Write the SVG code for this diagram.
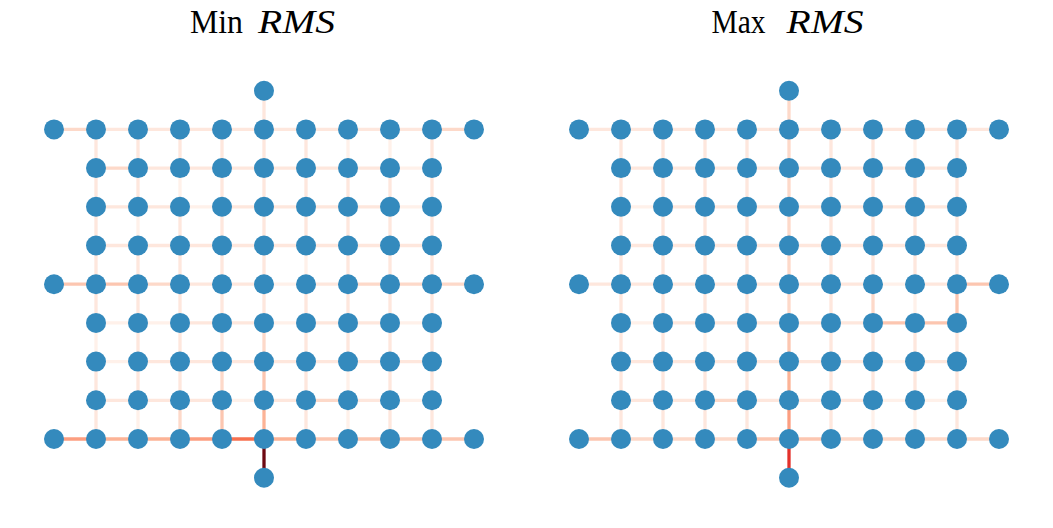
<svg xmlns="http://www.w3.org/2000/svg" width="1053" height="528" viewBox="0 0 1053 528">
<style>
.t{font-family:"Liberation Serif","DejaVu Serif",serif;font-size:34px;fill:#000}
.i{font-style:italic}
line{stroke-width:3.3;stroke-linecap:butt;fill:none}
.c0{stroke:#fff1ea}.c1{stroke:#fee7dd}.c2{stroke:#fdd9c9}.c3{stroke:#fcc6b0}.c4{stroke:#fcb396}
.c5{stroke:#fc9e80}.c7{stroke:#f7714f}.c8{stroke:#e3312b}.c9{stroke:#6e0912}
circle{fill:#348abd}
</style>
<rect width="1053" height="528" fill="#fff"/>
<g id="titles">
<text class="t" x="190" y="33" textLength="53" lengthAdjust="spacingAndGlyphs">Min</text>
<text class="t i" x="258" y="33" textLength="77" lengthAdjust="spacingAndGlyphs">RMS</text>
<text class="t" x="711.5" y="33" textLength="54" lengthAdjust="spacingAndGlyphs">Max</text>
<text class="t i" x="786.5" y="33" textLength="77" lengthAdjust="spacingAndGlyphs">RMS</text>
</g>
<g id="left">
<g id="left-edges">
<line class="c1" x1="264" y1="90.7" x2="264" y2="129.4"/>
<line class="c9" x1="264" y1="439" x2="264" y2="477.7"/>
<line class="c2" x1="54" y1="129.4" x2="96" y2="129.4"/><line class="c1" x1="96" y1="129.4" x2="138" y2="129.4"/><line class="c1" x1="138" y1="129.4" x2="180" y2="129.4"/><line class="c1" x1="180" y1="129.4" x2="222" y2="129.4"/><line class="c1" x1="222" y1="129.4" x2="264" y2="129.4"/><line class="c1" x1="264" y1="129.4" x2="306" y2="129.4"/><line class="c1" x1="306" y1="129.4" x2="348" y2="129.4"/><line class="c1" x1="348" y1="129.4" x2="390" y2="129.4"/><line class="c1" x1="390" y1="129.4" x2="432" y2="129.4"/><line class="c2" x1="432" y1="129.4" x2="474" y2="129.4"/>
<line class="c2" x1="96" y1="168.1" x2="138" y2="168.1"/><line class="c1" x1="138" y1="168.1" x2="180" y2="168.1"/><line class="c1" x1="180" y1="168.1" x2="222" y2="168.1"/><line class="c1" x1="222" y1="168.1" x2="264" y2="168.1"/><line class="c1" x1="264" y1="168.1" x2="306" y2="168.1"/><line class="c1" x1="306" y1="168.1" x2="348" y2="168.1"/><line class="c1" x1="348" y1="168.1" x2="390" y2="168.1"/><line class="c0" x1="390" y1="168.1" x2="432" y2="168.1"/>
<line class="c1" x1="96" y1="206.8" x2="138" y2="206.8"/><line class="c1" x1="138" y1="206.8" x2="180" y2="206.8"/><line class="c0" x1="180" y1="206.8" x2="222" y2="206.8"/><line class="c1" x1="222" y1="206.8" x2="264" y2="206.8"/><line class="c1" x1="264" y1="206.8" x2="306" y2="206.8"/><line class="c1" x1="306" y1="206.8" x2="348" y2="206.8"/><line class="c1" x1="348" y1="206.8" x2="390" y2="206.8"/><line class="c0" x1="390" y1="206.8" x2="432" y2="206.8"/>
<line class="c1" x1="96" y1="245.5" x2="138" y2="245.5"/><line class="c1" x1="138" y1="245.5" x2="180" y2="245.5"/><line class="c1" x1="180" y1="245.5" x2="222" y2="245.5"/><line class="c1" x1="222" y1="245.5" x2="264" y2="245.5"/><line class="c1" x1="264" y1="245.5" x2="306" y2="245.5"/><line class="c1" x1="306" y1="245.5" x2="348" y2="245.5"/><line class="c1" x1="348" y1="245.5" x2="390" y2="245.5"/><line class="c1" x1="390" y1="245.5" x2="432" y2="245.5"/>
<line class="c3" x1="54" y1="284.2" x2="96" y2="284.2"/><line class="c3" x1="96" y1="284.2" x2="138" y2="284.2"/><line class="c2" x1="138" y1="284.2" x2="180" y2="284.2"/><line class="c1" x1="180" y1="284.2" x2="222" y2="284.2"/><line class="c1" x1="222" y1="284.2" x2="264" y2="284.2"/><line class="c0" x1="264" y1="284.2" x2="306" y2="284.2"/><line class="c1" x1="306" y1="284.2" x2="348" y2="284.2"/><line class="c2" x1="348" y1="284.2" x2="390" y2="284.2"/><line class="c2" x1="390" y1="284.2" x2="432" y2="284.2"/><line class="c2" x1="432" y1="284.2" x2="474" y2="284.2"/>
<line class="c0" x1="96" y1="322.9" x2="138" y2="322.9"/><line class="c0" x1="138" y1="322.9" x2="180" y2="322.9"/><line class="c1" x1="180" y1="322.9" x2="222" y2="322.9"/><line class="c1" x1="222" y1="322.9" x2="264" y2="322.9"/><line class="c0" x1="264" y1="322.9" x2="306" y2="322.9"/><line class="c1" x1="306" y1="322.9" x2="348" y2="322.9"/><line class="c1" x1="348" y1="322.9" x2="390" y2="322.9"/><line class="c0" x1="390" y1="322.9" x2="432" y2="322.9"/>
<line class="c0" x1="96" y1="361.6" x2="138" y2="361.6"/><line class="c1" x1="138" y1="361.6" x2="180" y2="361.6"/><line class="c1" x1="180" y1="361.6" x2="222" y2="361.6"/><line class="c1" x1="222" y1="361.6" x2="264" y2="361.6"/><line class="c1" x1="264" y1="361.6" x2="306" y2="361.6"/><line class="c1" x1="306" y1="361.6" x2="348" y2="361.6"/><line class="c1" x1="348" y1="361.6" x2="390" y2="361.6"/><line class="c1" x1="390" y1="361.6" x2="432" y2="361.6"/>
<line class="c1" x1="96" y1="400.3" x2="138" y2="400.3"/><line class="c1" x1="138" y1="400.3" x2="180" y2="400.3"/><line class="c1" x1="180" y1="400.3" x2="222" y2="400.3"/><line class="c0" x1="222" y1="400.3" x2="264" y2="400.3"/><line class="c1" x1="264" y1="400.3" x2="306" y2="400.3"/><line class="c2" x1="306" y1="400.3" x2="348" y2="400.3"/><line class="c1" x1="348" y1="400.3" x2="390" y2="400.3"/><line class="c0" x1="390" y1="400.3" x2="432" y2="400.3"/>
<line class="c5" x1="54" y1="439" x2="96" y2="439"/><line class="c4" x1="96" y1="439" x2="138" y2="439"/><line class="c4" x1="138" y1="439" x2="180" y2="439"/><line class="c5" x1="180" y1="439" x2="222" y2="439"/><line class="c7" x1="222" y1="439" x2="264" y2="439"/><line class="c4" x1="264" y1="439" x2="306" y2="439"/><line class="c3" x1="306" y1="439" x2="348" y2="439"/><line class="c3" x1="348" y1="439" x2="390" y2="439"/><line class="c3" x1="390" y1="439" x2="432" y2="439"/><line class="c3" x1="432" y1="439" x2="474" y2="439"/>
<line class="c1" x1="96" y1="129.4" x2="96" y2="168.1"/><line class="c1" x1="96" y1="168.1" x2="96" y2="206.8"/><line class="c1" x1="96" y1="206.8" x2="96" y2="245.5"/><line class="c1" x1="96" y1="245.5" x2="96" y2="284.2"/><line class="c1" x1="96" y1="284.2" x2="96" y2="322.9"/><line class="c0" x1="96" y1="322.9" x2="96" y2="361.6"/><line class="c1" x1="96" y1="361.6" x2="96" y2="400.3"/><line class="c1" x1="96" y1="400.3" x2="96" y2="439"/>
<line class="c1" x1="138" y1="129.4" x2="138" y2="168.1"/><line class="c1" x1="138" y1="168.1" x2="138" y2="206.8"/><line class="c0" x1="138" y1="206.8" x2="138" y2="245.5"/><line class="c1" x1="138" y1="245.5" x2="138" y2="284.2"/><line class="c1" x1="138" y1="284.2" x2="138" y2="322.9"/><line class="c1" x1="138" y1="322.9" x2="138" y2="361.6"/><line class="c1" x1="138" y1="361.6" x2="138" y2="400.3"/><line class="c0" x1="138" y1="400.3" x2="138" y2="439"/>
<line class="c1" x1="180" y1="129.4" x2="180" y2="168.1"/><line class="c0" x1="180" y1="168.1" x2="180" y2="206.8"/><line class="c1" x1="180" y1="206.8" x2="180" y2="245.5"/><line class="c1" x1="180" y1="245.5" x2="180" y2="284.2"/><line class="c1" x1="180" y1="284.2" x2="180" y2="322.9"/><line class="c1" x1="180" y1="322.9" x2="180" y2="361.6"/><line class="c1" x1="180" y1="361.6" x2="180" y2="400.3"/><line class="c2" x1="180" y1="400.3" x2="180" y2="439"/>
<line class="c1" x1="222" y1="129.4" x2="222" y2="168.1"/><line class="c1" x1="222" y1="168.1" x2="222" y2="206.8"/><line class="c1" x1="222" y1="206.8" x2="222" y2="245.5"/><line class="c1" x1="222" y1="245.5" x2="222" y2="284.2"/><line class="c1" x1="222" y1="284.2" x2="222" y2="322.9"/><line class="c1" x1="222" y1="322.9" x2="222" y2="361.6"/><line class="c2" x1="222" y1="361.6" x2="222" y2="400.3"/><line class="c3" x1="222" y1="400.3" x2="222" y2="439"/>
<line class="c1" x1="264" y1="129.4" x2="264" y2="168.1"/><line class="c1" x1="264" y1="168.1" x2="264" y2="206.8"/><line class="c1" x1="264" y1="206.8" x2="264" y2="245.5"/><line class="c1" x1="264" y1="245.5" x2="264" y2="284.2"/><line class="c1" x1="264" y1="284.2" x2="264" y2="322.9"/><line class="c2" x1="264" y1="322.9" x2="264" y2="361.6"/><line class="c3" x1="264" y1="361.6" x2="264" y2="400.3"/><line class="c4" x1="264" y1="400.3" x2="264" y2="439"/>
<line class="c1" x1="306" y1="129.4" x2="306" y2="168.1"/><line class="c1" x1="306" y1="168.1" x2="306" y2="206.8"/><line class="c1" x1="306" y1="206.8" x2="306" y2="245.5"/><line class="c0" x1="306" y1="245.5" x2="306" y2="284.2"/><line class="c1" x1="306" y1="284.2" x2="306" y2="322.9"/><line class="c1" x1="306" y1="322.9" x2="306" y2="361.6"/><line class="c1" x1="306" y1="361.6" x2="306" y2="400.3"/><line class="c1" x1="306" y1="400.3" x2="306" y2="439"/>
<line class="c0" x1="348" y1="129.4" x2="348" y2="168.1"/><line class="c1" x1="348" y1="168.1" x2="348" y2="206.8"/><line class="c1" x1="348" y1="206.8" x2="348" y2="245.5"/><line class="c1" x1="348" y1="245.5" x2="348" y2="284.2"/><line class="c1" x1="348" y1="284.2" x2="348" y2="322.9"/><line class="c1" x1="348" y1="322.9" x2="348" y2="361.6"/><line class="c0" x1="348" y1="361.6" x2="348" y2="400.3"/><line class="c0" x1="348" y1="400.3" x2="348" y2="439"/>
<line class="c0" x1="390" y1="129.4" x2="390" y2="168.1"/><line class="c1" x1="390" y1="168.1" x2="390" y2="206.8"/><line class="c1" x1="390" y1="206.8" x2="390" y2="245.5"/><line class="c1" x1="390" y1="245.5" x2="390" y2="284.2"/><line class="c1" x1="390" y1="284.2" x2="390" y2="322.9"/><line class="c1" x1="390" y1="322.9" x2="390" y2="361.6"/><line class="c1" x1="390" y1="361.6" x2="390" y2="400.3"/><line class="c1" x1="390" y1="400.3" x2="390" y2="439"/>
<line class="c1" x1="432" y1="129.4" x2="432" y2="168.1"/><line class="c1" x1="432" y1="168.1" x2="432" y2="206.8"/><line class="c1" x1="432" y1="206.8" x2="432" y2="245.5"/><line class="c1" x1="432" y1="245.5" x2="432" y2="284.2"/><line class="c1" x1="432" y1="284.2" x2="432" y2="322.9"/><line class="c1" x1="432" y1="322.9" x2="432" y2="361.6"/><line class="c1" x1="432" y1="361.6" x2="432" y2="400.3"/><line class="c1" x1="432" y1="400.3" x2="432" y2="439"/>
</g>
<g id="left-nodes">
<g id="L-0-5"><circle cx="264" cy="90.7" r="10"/></g>
<g id="L-1-0"><circle cx="54" cy="129.4" r="10"/></g><g id="L-1-1"><circle cx="96" cy="129.4" r="10"/></g><g id="L-1-2"><circle cx="138" cy="129.4" r="10"/></g><g id="L-1-3"><circle cx="180" cy="129.4" r="10"/></g><g id="L-1-4"><circle cx="222" cy="129.4" r="10"/></g><g id="L-1-5"><circle cx="264" cy="129.4" r="10"/></g><g id="L-1-6"><circle cx="306" cy="129.4" r="10"/></g><g id="L-1-7"><circle cx="348" cy="129.4" r="10"/></g><g id="L-1-8"><circle cx="390" cy="129.4" r="10"/></g><g id="L-1-9"><circle cx="432" cy="129.4" r="10"/></g><g id="L-1-10"><circle cx="474" cy="129.4" r="10"/></g>
<g id="L-2-1"><circle cx="96" cy="168.1" r="10"/></g><g id="L-2-2"><circle cx="138" cy="168.1" r="10"/></g><g id="L-2-3"><circle cx="180" cy="168.1" r="10"/></g><g id="L-2-4"><circle cx="222" cy="168.1" r="10"/></g><g id="L-2-5"><circle cx="264" cy="168.1" r="10"/></g><g id="L-2-6"><circle cx="306" cy="168.1" r="10"/></g><g id="L-2-7"><circle cx="348" cy="168.1" r="10"/></g><g id="L-2-8"><circle cx="390" cy="168.1" r="10"/></g><g id="L-2-9"><circle cx="432" cy="168.1" r="10"/></g>
<g id="L-3-1"><circle cx="96" cy="206.8" r="10"/></g><g id="L-3-2"><circle cx="138" cy="206.8" r="10"/></g><g id="L-3-3"><circle cx="180" cy="206.8" r="10"/></g><g id="L-3-4"><circle cx="222" cy="206.8" r="10"/></g><g id="L-3-5"><circle cx="264" cy="206.8" r="10"/></g><g id="L-3-6"><circle cx="306" cy="206.8" r="10"/></g><g id="L-3-7"><circle cx="348" cy="206.8" r="10"/></g><g id="L-3-8"><circle cx="390" cy="206.8" r="10"/></g><g id="L-3-9"><circle cx="432" cy="206.8" r="10"/></g>
<g id="L-4-1"><circle cx="96" cy="245.5" r="10"/></g><g id="L-4-2"><circle cx="138" cy="245.5" r="10"/></g><g id="L-4-3"><circle cx="180" cy="245.5" r="10"/></g><g id="L-4-4"><circle cx="222" cy="245.5" r="10"/></g><g id="L-4-5"><circle cx="264" cy="245.5" r="10"/></g><g id="L-4-6"><circle cx="306" cy="245.5" r="10"/></g><g id="L-4-7"><circle cx="348" cy="245.5" r="10"/></g><g id="L-4-8"><circle cx="390" cy="245.5" r="10"/></g><g id="L-4-9"><circle cx="432" cy="245.5" r="10"/></g>
<g id="L-5-0"><circle cx="54" cy="284.2" r="10"/></g><g id="L-5-1"><circle cx="96" cy="284.2" r="10"/></g><g id="L-5-2"><circle cx="138" cy="284.2" r="10"/></g><g id="L-5-3"><circle cx="180" cy="284.2" r="10"/></g><g id="L-5-4"><circle cx="222" cy="284.2" r="10"/></g><g id="L-5-5"><circle cx="264" cy="284.2" r="10"/></g><g id="L-5-6"><circle cx="306" cy="284.2" r="10"/></g><g id="L-5-7"><circle cx="348" cy="284.2" r="10"/></g><g id="L-5-8"><circle cx="390" cy="284.2" r="10"/></g><g id="L-5-9"><circle cx="432" cy="284.2" r="10"/></g><g id="L-5-10"><circle cx="474" cy="284.2" r="10"/></g>
<g id="L-6-1"><circle cx="96" cy="322.9" r="10"/></g><g id="L-6-2"><circle cx="138" cy="322.9" r="10"/></g><g id="L-6-3"><circle cx="180" cy="322.9" r="10"/></g><g id="L-6-4"><circle cx="222" cy="322.9" r="10"/></g><g id="L-6-5"><circle cx="264" cy="322.9" r="10"/></g><g id="L-6-6"><circle cx="306" cy="322.9" r="10"/></g><g id="L-6-7"><circle cx="348" cy="322.9" r="10"/></g><g id="L-6-8"><circle cx="390" cy="322.9" r="10"/></g><g id="L-6-9"><circle cx="432" cy="322.9" r="10"/></g>
<g id="L-7-1"><circle cx="96" cy="361.6" r="10"/></g><g id="L-7-2"><circle cx="138" cy="361.6" r="10"/></g><g id="L-7-3"><circle cx="180" cy="361.6" r="10"/></g><g id="L-7-4"><circle cx="222" cy="361.6" r="10"/></g><g id="L-7-5"><circle cx="264" cy="361.6" r="10"/></g><g id="L-7-6"><circle cx="306" cy="361.6" r="10"/></g><g id="L-7-7"><circle cx="348" cy="361.6" r="10"/></g><g id="L-7-8"><circle cx="390" cy="361.6" r="10"/></g><g id="L-7-9"><circle cx="432" cy="361.6" r="10"/></g>
<g id="L-8-1"><circle cx="96" cy="400.3" r="10"/></g><g id="L-8-2"><circle cx="138" cy="400.3" r="10"/></g><g id="L-8-3"><circle cx="180" cy="400.3" r="10"/></g><g id="L-8-4"><circle cx="222" cy="400.3" r="10"/></g><g id="L-8-5"><circle cx="264" cy="400.3" r="10"/></g><g id="L-8-6"><circle cx="306" cy="400.3" r="10"/></g><g id="L-8-7"><circle cx="348" cy="400.3" r="10"/></g><g id="L-8-8"><circle cx="390" cy="400.3" r="10"/></g><g id="L-8-9"><circle cx="432" cy="400.3" r="10"/></g>
<g id="L-9-0"><circle cx="54" cy="439" r="10"/></g><g id="L-9-1"><circle cx="96" cy="439" r="10"/></g><g id="L-9-2"><circle cx="138" cy="439" r="10"/></g><g id="L-9-3"><circle cx="180" cy="439" r="10"/></g><g id="L-9-4"><circle cx="222" cy="439" r="10"/></g><g id="L-9-5"><circle cx="264" cy="439" r="10"/></g><g id="L-9-6"><circle cx="306" cy="439" r="10"/></g><g id="L-9-7"><circle cx="348" cy="439" r="10"/></g><g id="L-9-8"><circle cx="390" cy="439" r="10"/></g><g id="L-9-9"><circle cx="432" cy="439" r="10"/></g><g id="L-9-10"><circle cx="474" cy="439" r="10"/></g>
<g id="L-10-5"><circle cx="264" cy="477.7" r="10"/></g>
</g>
</g>
<g id="right" transform="translate(525,0)">
<g id="right-edges">
<line class="c2" x1="264" y1="90.7" x2="264" y2="129.4"/>
<line class="c8" x1="264" y1="439" x2="264" y2="477.7"/>
<line class="c1" x1="54" y1="129.4" x2="96" y2="129.4"/><line class="c1" x1="96" y1="129.4" x2="138" y2="129.4"/><line class="c1" x1="138" y1="129.4" x2="180" y2="129.4"/><line class="c1" x1="180" y1="129.4" x2="222" y2="129.4"/><line class="c1" x1="222" y1="129.4" x2="264" y2="129.4"/><line class="c1" x1="264" y1="129.4" x2="306" y2="129.4"/><line class="c1" x1="306" y1="129.4" x2="348" y2="129.4"/><line class="c1" x1="348" y1="129.4" x2="390" y2="129.4"/><line class="c1" x1="390" y1="129.4" x2="432" y2="129.4"/><line class="c1" x1="432" y1="129.4" x2="474" y2="129.4"/>
<line class="c1" x1="96" y1="168.1" x2="138" y2="168.1"/><line class="c1" x1="138" y1="168.1" x2="180" y2="168.1"/><line class="c1" x1="180" y1="168.1" x2="222" y2="168.1"/><line class="c1" x1="222" y1="168.1" x2="264" y2="168.1"/><line class="c1" x1="264" y1="168.1" x2="306" y2="168.1"/><line class="c1" x1="306" y1="168.1" x2="348" y2="168.1"/><line class="c1" x1="348" y1="168.1" x2="390" y2="168.1"/><line class="c1" x1="390" y1="168.1" x2="432" y2="168.1"/>
<line class="c0" x1="96" y1="206.8" x2="138" y2="206.8"/><line class="c1" x1="138" y1="206.8" x2="180" y2="206.8"/><line class="c1" x1="180" y1="206.8" x2="222" y2="206.8"/><line class="c1" x1="222" y1="206.8" x2="264" y2="206.8"/><line class="c1" x1="264" y1="206.8" x2="306" y2="206.8"/><line class="c1" x1="306" y1="206.8" x2="348" y2="206.8"/><line class="c1" x1="348" y1="206.8" x2="390" y2="206.8"/><line class="c1" x1="390" y1="206.8" x2="432" y2="206.8"/>
<line class="c1" x1="96" y1="245.5" x2="138" y2="245.5"/><line class="c1" x1="138" y1="245.5" x2="180" y2="245.5"/><line class="c1" x1="180" y1="245.5" x2="222" y2="245.5"/><line class="c1" x1="222" y1="245.5" x2="264" y2="245.5"/><line class="c1" x1="264" y1="245.5" x2="306" y2="245.5"/><line class="c1" x1="306" y1="245.5" x2="348" y2="245.5"/><line class="c1" x1="348" y1="245.5" x2="390" y2="245.5"/><line class="c1" x1="390" y1="245.5" x2="432" y2="245.5"/>
<line class="c1" x1="54" y1="284.2" x2="96" y2="284.2"/><line class="c1" x1="96" y1="284.2" x2="138" y2="284.2"/><line class="c1" x1="138" y1="284.2" x2="180" y2="284.2"/><line class="c1" x1="180" y1="284.2" x2="222" y2="284.2"/><line class="c1" x1="222" y1="284.2" x2="264" y2="284.2"/><line class="c1" x1="264" y1="284.2" x2="306" y2="284.2"/><line class="c1" x1="306" y1="284.2" x2="348" y2="284.2"/><line class="c0" x1="348" y1="284.2" x2="390" y2="284.2"/><line class="c1" x1="390" y1="284.2" x2="432" y2="284.2"/><line class="c3" x1="432" y1="284.2" x2="474" y2="284.2"/>
<line class="c0" x1="96" y1="322.9" x2="138" y2="322.9"/><line class="c1" x1="138" y1="322.9" x2="180" y2="322.9"/><line class="c1" x1="180" y1="322.9" x2="222" y2="322.9"/><line class="c1" x1="222" y1="322.9" x2="264" y2="322.9"/><line class="c1" x1="264" y1="322.9" x2="306" y2="322.9"/><line class="c1" x1="306" y1="322.9" x2="348" y2="322.9"/><line class="c3" x1="348" y1="322.9" x2="390" y2="322.9"/><line class="c3" x1="390" y1="322.9" x2="432" y2="322.9"/>
<line class="c1" x1="96" y1="361.6" x2="138" y2="361.6"/><line class="c1" x1="138" y1="361.6" x2="180" y2="361.6"/><line class="c1" x1="180" y1="361.6" x2="222" y2="361.6"/><line class="c1" x1="222" y1="361.6" x2="264" y2="361.6"/><line class="c1" x1="264" y1="361.6" x2="306" y2="361.6"/><line class="c1" x1="306" y1="361.6" x2="348" y2="361.6"/><line class="c0" x1="348" y1="361.6" x2="390" y2="361.6"/><line class="c1" x1="390" y1="361.6" x2="432" y2="361.6"/>
<line class="c1" x1="96" y1="400.3" x2="138" y2="400.3"/><line class="c1" x1="138" y1="400.3" x2="180" y2="400.3"/><line class="c2" x1="180" y1="400.3" x2="222" y2="400.3"/><line class="c1" x1="222" y1="400.3" x2="264" y2="400.3"/><line class="c1" x1="264" y1="400.3" x2="306" y2="400.3"/><line class="c1" x1="306" y1="400.3" x2="348" y2="400.3"/><line class="c0" x1="348" y1="400.3" x2="390" y2="400.3"/><line class="c0" x1="390" y1="400.3" x2="432" y2="400.3"/>
<line class="c3" x1="54" y1="439" x2="96" y2="439"/><line class="c2" x1="96" y1="439" x2="138" y2="439"/><line class="c2" x1="138" y1="439" x2="180" y2="439"/><line class="c2" x1="180" y1="439" x2="222" y2="439"/><line class="c3" x1="222" y1="439" x2="264" y2="439"/><line class="c3" x1="264" y1="439" x2="306" y2="439"/><line class="c2" x1="306" y1="439" x2="348" y2="439"/><line class="c2" x1="348" y1="439" x2="390" y2="439"/><line class="c2" x1="390" y1="439" x2="432" y2="439"/><line class="c2" x1="432" y1="439" x2="474" y2="439"/>
<line class="c1" x1="96" y1="129.4" x2="96" y2="168.1"/><line class="c1" x1="96" y1="168.1" x2="96" y2="206.8"/><line class="c1" x1="96" y1="206.8" x2="96" y2="245.5"/><line class="c1" x1="96" y1="245.5" x2="96" y2="284.2"/><line class="c1" x1="96" y1="284.2" x2="96" y2="322.9"/><line class="c1" x1="96" y1="322.9" x2="96" y2="361.6"/><line class="c1" x1="96" y1="361.6" x2="96" y2="400.3"/><line class="c1" x1="96" y1="400.3" x2="96" y2="439"/>
<line class="c1" x1="138" y1="129.4" x2="138" y2="168.1"/><line class="c1" x1="138" y1="168.1" x2="138" y2="206.8"/><line class="c1" x1="138" y1="206.8" x2="138" y2="245.5"/><line class="c1" x1="138" y1="245.5" x2="138" y2="284.2"/><line class="c1" x1="138" y1="284.2" x2="138" y2="322.9"/><line class="c1" x1="138" y1="322.9" x2="138" y2="361.6"/><line class="c1" x1="138" y1="361.6" x2="138" y2="400.3"/><line class="c1" x1="138" y1="400.3" x2="138" y2="439"/>
<line class="c1" x1="180" y1="129.4" x2="180" y2="168.1"/><line class="c1" x1="180" y1="168.1" x2="180" y2="206.8"/><line class="c1" x1="180" y1="206.8" x2="180" y2="245.5"/><line class="c1" x1="180" y1="245.5" x2="180" y2="284.2"/><line class="c1" x1="180" y1="284.2" x2="180" y2="322.9"/><line class="c0" x1="180" y1="322.9" x2="180" y2="361.6"/><line class="c1" x1="180" y1="361.6" x2="180" y2="400.3"/><line class="c1" x1="180" y1="400.3" x2="180" y2="439"/>
<line class="c1" x1="222" y1="129.4" x2="222" y2="168.1"/><line class="c1" x1="222" y1="168.1" x2="222" y2="206.8"/><line class="c1" x1="222" y1="206.8" x2="222" y2="245.5"/><line class="c1" x1="222" y1="245.5" x2="222" y2="284.2"/><line class="c1" x1="222" y1="284.2" x2="222" y2="322.9"/><line class="c1" x1="222" y1="322.9" x2="222" y2="361.6"/><line class="c1" x1="222" y1="361.6" x2="222" y2="400.3"/><line class="c1" x1="222" y1="400.3" x2="222" y2="439"/>
<line class="c2" x1="264" y1="129.4" x2="264" y2="168.1"/><line class="c2" x1="264" y1="168.1" x2="264" y2="206.8"/><line class="c2" x1="264" y1="206.8" x2="264" y2="245.5"/><line class="c2" x1="264" y1="245.5" x2="264" y2="284.2"/><line class="c2" x1="264" y1="284.2" x2="264" y2="322.9"/><line class="c3" x1="264" y1="322.9" x2="264" y2="361.6"/><line class="c4" x1="264" y1="361.6" x2="264" y2="400.3"/><line class="c5" x1="264" y1="400.3" x2="264" y2="439"/>
<line class="c1" x1="306" y1="129.4" x2="306" y2="168.1"/><line class="c1" x1="306" y1="168.1" x2="306" y2="206.8"/><line class="c1" x1="306" y1="206.8" x2="306" y2="245.5"/><line class="c1" x1="306" y1="245.5" x2="306" y2="284.2"/><line class="c1" x1="306" y1="284.2" x2="306" y2="322.9"/><line class="c1" x1="306" y1="322.9" x2="306" y2="361.6"/><line class="c1" x1="306" y1="361.6" x2="306" y2="400.3"/><line class="c1" x1="306" y1="400.3" x2="306" y2="439"/>
<line class="c1" x1="348" y1="129.4" x2="348" y2="168.1"/><line class="c1" x1="348" y1="168.1" x2="348" y2="206.8"/><line class="c1" x1="348" y1="206.8" x2="348" y2="245.5"/><line class="c1" x1="348" y1="245.5" x2="348" y2="284.2"/><line class="c2" x1="348" y1="284.2" x2="348" y2="322.9"/><line class="c1" x1="348" y1="322.9" x2="348" y2="361.6"/><line class="c1" x1="348" y1="361.6" x2="348" y2="400.3"/><line class="c0" x1="348" y1="400.3" x2="348" y2="439"/>
<line class="c0" x1="390" y1="129.4" x2="390" y2="168.1"/><line class="c1" x1="390" y1="168.1" x2="390" y2="206.8"/><line class="c1" x1="390" y1="206.8" x2="390" y2="245.5"/><line class="c1" x1="390" y1="245.5" x2="390" y2="284.2"/><line class="c0" x1="390" y1="284.2" x2="390" y2="322.9"/><line class="c1" x1="390" y1="322.9" x2="390" y2="361.6"/><line class="c1" x1="390" y1="361.6" x2="390" y2="400.3"/><line class="c0" x1="390" y1="400.3" x2="390" y2="439"/>
<line class="c1" x1="432" y1="129.4" x2="432" y2="168.1"/><line class="c1" x1="432" y1="168.1" x2="432" y2="206.8"/><line class="c1" x1="432" y1="206.8" x2="432" y2="245.5"/><line class="c1" x1="432" y1="245.5" x2="432" y2="284.2"/><line class="c3" x1="432" y1="284.2" x2="432" y2="322.9"/><line class="c1" x1="432" y1="322.9" x2="432" y2="361.6"/><line class="c1" x1="432" y1="361.6" x2="432" y2="400.3"/><line class="c1" x1="432" y1="400.3" x2="432" y2="439"/>
</g>
<g id="right-nodes">
<g id="R-0-5"><circle cx="264" cy="90.7" r="10"/></g>
<g id="R-1-0"><circle cx="54" cy="129.4" r="10"/></g><g id="R-1-1"><circle cx="96" cy="129.4" r="10"/></g><g id="R-1-2"><circle cx="138" cy="129.4" r="10"/></g><g id="R-1-3"><circle cx="180" cy="129.4" r="10"/></g><g id="R-1-4"><circle cx="222" cy="129.4" r="10"/></g><g id="R-1-5"><circle cx="264" cy="129.4" r="10"/></g><g id="R-1-6"><circle cx="306" cy="129.4" r="10"/></g><g id="R-1-7"><circle cx="348" cy="129.4" r="10"/></g><g id="R-1-8"><circle cx="390" cy="129.4" r="10"/></g><g id="R-1-9"><circle cx="432" cy="129.4" r="10"/></g><g id="R-1-10"><circle cx="474" cy="129.4" r="10"/></g>
<g id="R-2-1"><circle cx="96" cy="168.1" r="10"/></g><g id="R-2-2"><circle cx="138" cy="168.1" r="10"/></g><g id="R-2-3"><circle cx="180" cy="168.1" r="10"/></g><g id="R-2-4"><circle cx="222" cy="168.1" r="10"/></g><g id="R-2-5"><circle cx="264" cy="168.1" r="10"/></g><g id="R-2-6"><circle cx="306" cy="168.1" r="10"/></g><g id="R-2-7"><circle cx="348" cy="168.1" r="10"/></g><g id="R-2-8"><circle cx="390" cy="168.1" r="10"/></g><g id="R-2-9"><circle cx="432" cy="168.1" r="10"/></g>
<g id="R-3-1"><circle cx="96" cy="206.8" r="10"/></g><g id="R-3-2"><circle cx="138" cy="206.8" r="10"/></g><g id="R-3-3"><circle cx="180" cy="206.8" r="10"/></g><g id="R-3-4"><circle cx="222" cy="206.8" r="10"/></g><g id="R-3-5"><circle cx="264" cy="206.8" r="10"/></g><g id="R-3-6"><circle cx="306" cy="206.8" r="10"/></g><g id="R-3-7"><circle cx="348" cy="206.8" r="10"/></g><g id="R-3-8"><circle cx="390" cy="206.8" r="10"/></g><g id="R-3-9"><circle cx="432" cy="206.8" r="10"/></g>
<g id="R-4-1"><circle cx="96" cy="245.5" r="10"/></g><g id="R-4-2"><circle cx="138" cy="245.5" r="10"/></g><g id="R-4-3"><circle cx="180" cy="245.5" r="10"/></g><g id="R-4-4"><circle cx="222" cy="245.5" r="10"/></g><g id="R-4-5"><circle cx="264" cy="245.5" r="10"/></g><g id="R-4-6"><circle cx="306" cy="245.5" r="10"/></g><g id="R-4-7"><circle cx="348" cy="245.5" r="10"/></g><g id="R-4-8"><circle cx="390" cy="245.5" r="10"/></g><g id="R-4-9"><circle cx="432" cy="245.5" r="10"/></g>
<g id="R-5-0"><circle cx="54" cy="284.2" r="10"/></g><g id="R-5-1"><circle cx="96" cy="284.2" r="10"/></g><g id="R-5-2"><circle cx="138" cy="284.2" r="10"/></g><g id="R-5-3"><circle cx="180" cy="284.2" r="10"/></g><g id="R-5-4"><circle cx="222" cy="284.2" r="10"/></g><g id="R-5-5"><circle cx="264" cy="284.2" r="10"/></g><g id="R-5-6"><circle cx="306" cy="284.2" r="10"/></g><g id="R-5-7"><circle cx="348" cy="284.2" r="10"/></g><g id="R-5-8"><circle cx="390" cy="284.2" r="10"/></g><g id="R-5-9"><circle cx="432" cy="284.2" r="10"/></g><g id="R-5-10"><circle cx="474" cy="284.2" r="10"/></g>
<g id="R-6-1"><circle cx="96" cy="322.9" r="10"/></g><g id="R-6-2"><circle cx="138" cy="322.9" r="10"/></g><g id="R-6-3"><circle cx="180" cy="322.9" r="10"/></g><g id="R-6-4"><circle cx="222" cy="322.9" r="10"/></g><g id="R-6-5"><circle cx="264" cy="322.9" r="10"/></g><g id="R-6-6"><circle cx="306" cy="322.9" r="10"/></g><g id="R-6-7"><circle cx="348" cy="322.9" r="10"/></g><g id="R-6-8"><circle cx="390" cy="322.9" r="10"/></g><g id="R-6-9"><circle cx="432" cy="322.9" r="10"/></g>
<g id="R-7-1"><circle cx="96" cy="361.6" r="10"/></g><g id="R-7-2"><circle cx="138" cy="361.6" r="10"/></g><g id="R-7-3"><circle cx="180" cy="361.6" r="10"/></g><g id="R-7-4"><circle cx="222" cy="361.6" r="10"/></g><g id="R-7-5"><circle cx="264" cy="361.6" r="10"/></g><g id="R-7-6"><circle cx="306" cy="361.6" r="10"/></g><g id="R-7-7"><circle cx="348" cy="361.6" r="10"/></g><g id="R-7-8"><circle cx="390" cy="361.6" r="10"/></g><g id="R-7-9"><circle cx="432" cy="361.6" r="10"/></g>
<g id="R-8-1"><circle cx="96" cy="400.3" r="10"/></g><g id="R-8-2"><circle cx="138" cy="400.3" r="10"/></g><g id="R-8-3"><circle cx="180" cy="400.3" r="10"/></g><g id="R-8-4"><circle cx="222" cy="400.3" r="10"/></g><g id="R-8-5"><circle cx="264" cy="400.3" r="10"/></g><g id="R-8-6"><circle cx="306" cy="400.3" r="10"/></g><g id="R-8-7"><circle cx="348" cy="400.3" r="10"/></g><g id="R-8-8"><circle cx="390" cy="400.3" r="10"/></g><g id="R-8-9"><circle cx="432" cy="400.3" r="10"/></g>
<g id="R-9-0"><circle cx="54" cy="439" r="10"/></g><g id="R-9-1"><circle cx="96" cy="439" r="10"/></g><g id="R-9-2"><circle cx="138" cy="439" r="10"/></g><g id="R-9-3"><circle cx="180" cy="439" r="10"/></g><g id="R-9-4"><circle cx="222" cy="439" r="10"/></g><g id="R-9-5"><circle cx="264" cy="439" r="10"/></g><g id="R-9-6"><circle cx="306" cy="439" r="10"/></g><g id="R-9-7"><circle cx="348" cy="439" r="10"/></g><g id="R-9-8"><circle cx="390" cy="439" r="10"/></g><g id="R-9-9"><circle cx="432" cy="439" r="10"/></g><g id="R-9-10"><circle cx="474" cy="439" r="10"/></g>
<g id="R-10-5"><circle cx="264" cy="477.7" r="10"/></g>
</g>
</g>
</svg>
